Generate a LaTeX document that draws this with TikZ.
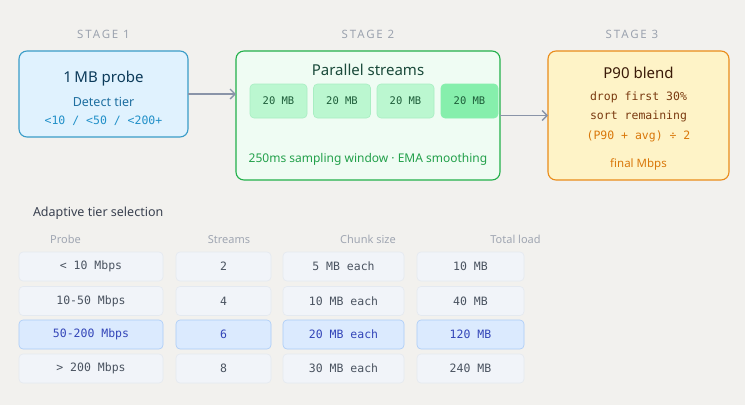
\documentclass[tikz,border=0pt]{standalone}
\usepackage{fontspec}
\setmainfont{Noto Sans}
\setmonofont{DejaVu Sans Mono}
\newfontfamily\stagefont[LetterSpace=16]{Noto Sans}
\usetikzlibrary{arrows.meta,positioning}
\definecolor{bg}{HTML}{F2F1EE}
\definecolor{sAfill}{HTML}{E0F2FE}
\definecolor{sAdraw}{HTML}{3A9CC8}
\definecolor{sAtitle}{HTML}{0C3B5A}
\definecolor{sAsub}{HTML}{1F6FA0}
\definecolor{sAmono}{HTML}{2190C8}
\definecolor{sBfill}{HTML}{EFFCF3}
\definecolor{sBdraw}{HTML}{22B04A}
\definecolor{sBtitle}{HTML}{1A4A3A}
\definecolor{chfill}{HTML}{BBF7D0}
\definecolor{chdraw}{HTML}{A8EEC2}
\definecolor{chlast}{HTML}{86EFAC}
\definecolor{chtext}{HTML}{1C5C38}
\definecolor{sBfoot}{HTML}{22A04A}
\definecolor{sCfill}{HTML}{FEF3C7}
\definecolor{sCdraw}{HTML}{EA8C1A}
\definecolor{sCtitle}{HTML}{3A1A08}
\definecolor{sCbrown}{HTML}{7A3A10}
\definecolor{sCorange}{HTML}{D9770A}
\definecolor{arrowc}{HTML}{8A94A8}
\definecolor{cellfill}{HTML}{F1F4F9}
\definecolor{celldraw}{HTML}{E4E9F0}
\definecolor{celltext}{HTML}{4A5360}
\definecolor{hifill}{HTML}{DBEAFE}
\definecolor{hidraw}{HTML}{A9CBF8}
\definecolor{hitext}{HTML}{3345B8}
\definecolor{headc}{HTML}{A0A6B2}
\definecolor{stagec}{HTML}{9CA3AF}
\definecolor{secc}{HTML}{3A4150}
\begin{document}
\begin{tikzpicture}[x=1pt,y=-1pt,
  every node/.style={inner sep=0pt,outer sep=0pt},
  stagebox/.style={rectangle,rounded corners=8pt,line width=1.1pt},
  stagelbl/.style={font=\stagefont\fontsize{11.5}{13}\selectfont,text=stagec},
  titletxt/.style={font=\fontsize{15}{18}\selectfont},
  chunk/.style={rectangle,rounded corners=4pt,fill=chfill,draw=chdraw,line width=0.6pt,minimum width=57pt,minimum height=34pt,font=\ttfamily\fontsize{10.5}{12}\selectfont,text=chtext},
  monotxt/.style={font=\ttfamily\fontsize{11.5}{14}\selectfont},
  arr/.style={draw=arrowc,line width=1.4pt,-{Straight Barb[length=5pt,width=10pt,line width=1.4pt]}},
  cell/.style={rectangle,rounded corners=4pt,fill=cellfill,draw=celldraw,line width=0.6pt,minimum height=29pt,font=\ttfamily\fontsize{11.5}{14}\selectfont,text=celltext},
  hicell/.style={cell,fill=hifill,draw=hidraw,text=hitext},
  headtxt/.style={font=\fontsize{11}{13}\selectfont,text=headc},
]
\useasboundingbox (0,0) rectangle (745,405);
\fill[bg] (0,0) rectangle (745,405);

% stage labels
\node[stagelbl] (l1) at (103.5,34) {STAGE 1};
\node[stagelbl] (l2) at (368,34) {STAGE 2};
\node[stagelbl] (l3) at (632,34) {STAGE 3};

% stage 1
\node[stagebox,fill=sAfill,draw=sAdraw,minimum width=169pt,minimum height=86pt] (s1) at (103.5,94) {};
\node[titletxt,text=sAtitle] (s1t) at (103.5,79) {1\,MB probe};
\node[font=\fontsize{12.5}{15}\selectfont,text=sAsub] (s1s) at (103.5,101.5) {Detect tier};
\node[monotxt,text=sAmono] (s1m) at (103.5,121) {<10 / <50 / <200+};

% stage 2
\node[stagebox,fill=sBfill,draw=sBdraw,minimum width=264pt,minimum height=129pt] (s2) at (368,115.5) {};
\node[titletxt,text=sBtitle] (s2t) at (368,70) {Parallel streams};
\node[chunk] (c1) at (278.5,101) {20 MB};
\node[chunk] (c2) at (342,101) {20 MB};
\node[chunk] (c3) at (405.5,101) {20 MB};
\node[chunk,fill=chlast,draw=chlast] (c4) at (469.5,101) {20 MB};
\node[font=\fontsize{12}{14}\selectfont,text=sBfoot] (s2f) at (368,159.5) {250ms sampling window · EMA smoothing};

% stage 3
\node[stagebox,fill=sCfill,draw=sCdraw,minimum width=181pt,minimum height=129pt] (s3) at (638.5,115.5) {};
\node[titletxt,text=sCtitle] (s3t) at (638.5,73) {P90 blend};
\node[monotxt,text=sCbrown] (s3a) at (638.5,97) {drop first 30\%};
\node[monotxt,text=sCbrown] (s3b) at (638.5,116) {sort remaining};
\node[monotxt,text=sCorange] (s3c) at (638.5,136) {(P90 + avg) ÷ 2};
\node[font=\fontsize{11.5}{14}\selectfont,text=sCorange] (s3d) at (638.5,164) {final Mbps};

% arrows
\draw[arr] (s1.east) -- (s1.east -| s2.west);
\draw[arr] (s2.east) -- (s3.west);

% table
\node[anchor=west,font=\fontsize{12.5}{15}\selectfont,text=secc] (sec) at (33,213) {Adaptive tier selection};
\node[headtxt] (h1) at (65.5,239.5) {Probe};
\node[headtxt] (h2) at (229,239.5) {Streams};
\node[headtxt] (h3) at (368,239.5) {Chunk size};
\node[headtxt] (h4) at (515.5,239.5) {Total load};

\foreach \r/\y/\a/\b/\c/\d/\st in {
  1/266.5/< 10 Mbps/2/5 MB each/10 MB/cell,
  2/301/10-50 Mbps/4/10 MB each/40 MB/cell,
  3/334.5/50-200 Mbps/6/20 MB each/120 MB/hicell,
  4/368.5/> 200 Mbps/8/30 MB each/240 MB/cell}{
  \node[\st,minimum width=144pt] (ra\r) at (91,\y) {\a};
  \node[\st,minimum width=95pt] (rb\r) at (223.5,\y) {\b};
  \node[\st,minimum width=121pt] (rc\r) at (343.5,\y) {\c};
  \node[\st,minimum width=107pt] (rd\r) at (470.5,\y) {\d};
}
\end{tikzpicture}
\end{document}
